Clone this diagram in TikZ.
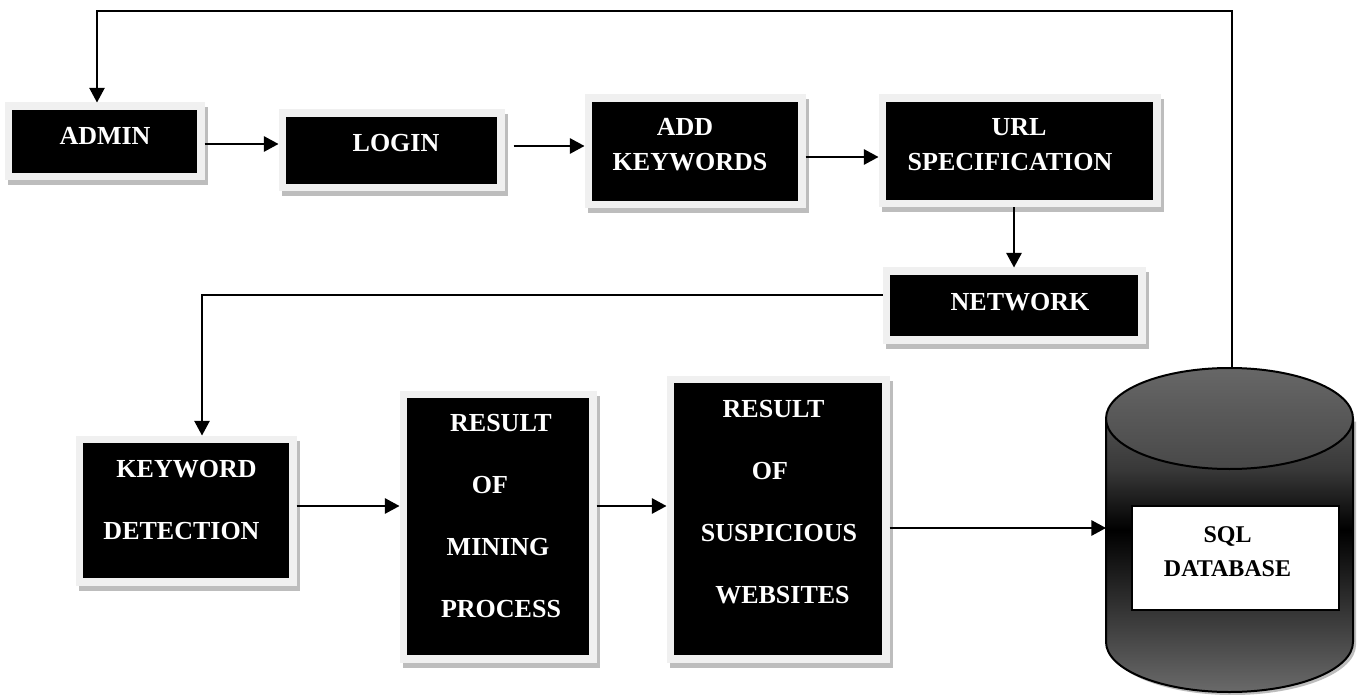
\documentclass[tikz,border=0pt]{standalone}
\usepackage{fontspec}
\setmainfont{Liberation Serif}
\usetikzlibrary{arrows.meta,calc}
\newdimen\pxu \pxu=0.75pt
\definecolor{rim}{HTML}{F0F0F0}
\definecolor{boxshadow}{HTML}{BDBDBD}
\definecolor{cyltop}{HTML}{505050}
\definecolor{cylmid}{HTML}{383838}
\definecolor{cylbot}{HTML}{6A6A6A}
\definecolor{captop}{HTML}{676767}
\definecolor{capbot}{HTML}{484848}
\pgfdeclareverticalshading{cylbody}{100bp}{color(0bp)=(cylbot); color(25bp)=(cylbot); color(54.6bp)=(black); color(65.6bp)=(cylmid); color(75bp)=(cyltop); color(100bp)=(cyltop)}
\begin{document}
\begin{tikzpicture}[x=0.75pt,y=-0.75pt,
  blackbox/.style={rectangle, fill=black, draw=rim, line width=7.5\pxu, inner sep=0pt,
    preaction={draw=boxshadow, fill=boxshadow, transform canvas={xshift=3\pxu, yshift=-5\pxu}}},
  wtext/.style={text=white, align=center, inner sep=0pt,
    font=\bfseries\fontsize{19.5}{26.25}\selectfont},
  wtall/.style={text=white, align=center, inner sep=0pt,
    font=\bfseries\fontsize{19.5}{46.5}\selectfont},
  flow/.style={line width=1.5pt, -{Triangle[length=11pt,width=11.5pt]}},
  elbow/.style={line width=1.2pt, -{Triangle[length=11pt,width=11.5pt]}}]
\useasboundingbox (0,0) rectangle (1363,695);
\fill[white] (0,0) rectangle (1363,695);

% process boxes
\node[blackbox, minimum width=192.5\pxu, minimum height=70.5\pxu]  (admin)  at (104.5,141.5) {};
\node[blackbox, minimum width=218.5\pxu, minimum height=74.5\pxu]  (login)  at (391.5,150.5) {};
\node[blackbox, minimum width=213.5\pxu, minimum height=106.5\pxu] (addkw)  at (695,151.5) {};
\node[blackbox, minimum width=274.5\pxu, minimum height=105.5\pxu] (url)    at (1019.5,151) {};
\node[blackbox, minimum width=255.5\pxu, minimum height=68.5\pxu]  (net)    at (1014,305.5) {};
\node[blackbox, minimum width=213.5\pxu, minimum height=142.5\pxu] (kw)     at (186,510.5) {};
\node[blackbox, minimum width=189.5\pxu, minimum height=264.5\pxu] (mining) at (498,526.5) {};
\node[blackbox, minimum width=215.5\pxu, minimum height=279.5\pxu] (susp)   at (778,519) {};

% box labels
\node[wtext] (admintext) at (105,135.5) {ADMIN};
\node[wtext] (logintext) at (396,143.5) {LOGIN};
\node[wtext] (addtext) at (690,145) {\mbox{ADD\kern7.5pt}\\KEYWORDS};
\node[wtext] (urltext) at (1010,145) {\mbox{\kern13.5pt URL}\\SPECIFICATION};
\node[wtext] (nettext) at (1020,302.5) {NETWORK};
\node[wtall] (kwtext) at (181.5,500) {\mbox{\kern7.5pt KEYWORD}\\DETECTION};
\node[wtall] (miningtext) at (501,516.5) {RESULT\\\mbox{OF\kern16.5pt}\\\mbox{MINING\kern4.5pt}\\PROCESS};
\node[wtall] (susptext) at (779,502.5) {\mbox{RESULT\kern8.25pt}\\\mbox{OF\kern13.5pt}\\SUSPICIOUS\\\mbox{\kern5.25pt WEBSITES}};

% database cylinder
\path[shading=cylbody, preaction={fill=boxshadow, transform canvas={xshift=3\pxu, yshift=-3\pxu}}]
  (1106,418.5) -- (1106,642) arc[start angle=180, end angle=360, x radius=123.5\pxu, y radius=50\pxu]
  -- (1353,418.5) -- cycle;
\draw[line width=1.5pt]
  (1106,418.5) -- (1106,642) arc[start angle=180, end angle=360, x radius=123.5\pxu, y radius=50\pxu]
  -- (1353,418.5);
\path[draw=black, line width=1.5pt, top color=captop, bottom color=capbot]
  (1229.5,418.5) ellipse[x radius=123.5\pxu, y radius=50.5\pxu];
\coordinate (dbtop) at (1232,368);
\coordinate (dbleft) at (1106,528);
\node[rectangle, fill=white, draw=black, line width=1pt, inner sep=0pt,
      minimum width=207\pxu, minimum height=104\pxu] (sql) at (1235.5,558) {};
\node[inner sep=0pt, align=center, font=\bfseries\fontsize{18}{25.5}\selectfont] (sqltext) at (1227.5,551.5) {SQL\\DATABASE};

% connectors
\coordinate (fb) at (97,11);
\draw[elbow] (dbtop) |- (fb) -- (fb |- admin.north);
\draw[flow] (admin.east |- 0,144) -- (login.west |- 0,144);
\draw[flow, shorten <=6.75pt] (login.east |- 0,146) -- (addkw.west |- 0,146);
\draw[flow] (addkw.east |- 0,157) -- (url.west |- 0,157);
\draw[flow] (url.south -| 1014,0) -- (net.north -| 1014,0);
\coordinate (nk) at (202,295);
\draw[elbow] (net.west |- nk) -- (nk) -- (nk |- kw.north);
\draw[flow] (kw.east |- 0,506) -- (mining.west |- 0,506);
\draw[flow] (mining.east |- 0,506) -- (susp.west |- 0,506);
\draw[flow] (susp.east |- 0,528) -- (dbleft);
\end{tikzpicture}
\end{document}
